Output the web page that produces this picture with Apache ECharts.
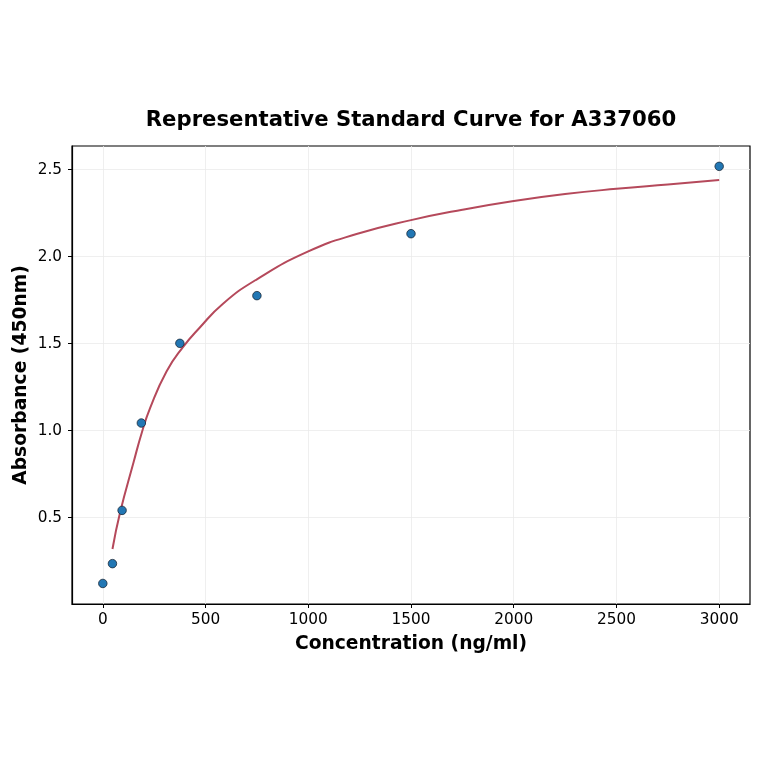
<!DOCTYPE html>
<html lang="en">
<head>
    <meta charset="UTF-8">
    <title>Representative Standard Curve for A337060</title>
    <script src="https://cdn.jsdelivr.net/npm/echarts@6.0.0/dist/echarts.min.js"></script>
    <style>
        html, body { margin: 0; padding: 0; background: #fff; }
        #chart { width: 764px; height: 764px; }
    </style>
</head>
<body>
    <div id="chart"></div>

    <script>
        // measured standards
        const concentration = [0, 46.875, 93.75, 187.5, 375, 750, 1500, 3000];
        const absorbance = [0.122, 0.236, 0.542, 1.044, 1.502, 1.776, 2.132, 2.519];

        // fitted curve
        const curveX = [47, 84, 150, 190, 230, 310, 390, 470, 585, 750, 1000, 1235, 1500, 1750, 2000, 2250, 2500, 2750, 3000];
        const curveY = [0.32, 0.53, 0.82, 0.99, 1.13, 1.34, 1.48, 1.59, 1.73, 1.87, 2.03, 2.13, 2.21, 2.27, 2.32, 2.36, 2.39, 2.415, 2.44];

        // tick labels
        const xTicks = [0, 500, 1000, 1500, 2000, 2500, 3000];
        const yTicks = [0.5, 1.0, 1.5, 2.0, 2.5];

        const chart = echarts.init(document.getElementById('chart'));
        const font = 'DejaVu Sans';

        const option = {
            animation: false,
            title: {
                text: 'Representative Standard Curve for A337060',
                left: 406,
                textAlign: 'center',
                top: 105,
                textStyle: { fontFamily: font, fontSize: 21.2, fontWeight: 'bold', color: '#000' }
            },
            grid: { left: 72, right: 14, top: 146, bottom: 160, containLabel: false, show: true, borderColor: '#000', borderWidth: 1.2 },
            xAxis: {
                type: 'value',
                min: -150,
                max: 3150,
                name: 'Concentration (ng/ml)',
                nameLocation: 'middle',
                nameGap: 31,
                nameMoveOverlap: false,
                nameTextStyle: { fontFamily: font, fontSize: 18.7, fontWeight: 'bold', color: '#000' },
                axisLine: { show: true, onZero: false, lineStyle: { color: '#000', width: 1.2 } },
                axisTick: { show: true, length: 4, customValues: xTicks, lineStyle: { color: '#000' } },
                axisLabel: {
                    customValues: xTicks,
                    fontFamily: font, fontSize: 15.3, color: '#000', margin: 9,
                    formatter: v => String(v)
                },
                splitLine: { show: true, lineStyle: { color: '#ebebeb', width: 0.8 } }
            },
            yAxis: {
                type: 'value',
                min: 0.004,
                max: 2.636,
                name: 'Absorbance (450nm)',
                nameLocation: 'middle',
                nameGap: 41,
                nameMoveOverlap: false,
                nameTextStyle: { fontFamily: font, fontSize: 18.7, fontWeight: 'bold', color: '#000' },
                axisLine: { show: true, onZero: false, lineStyle: { color: '#000', width: 1.2 } },
                axisTick: { show: true, length: 4, customValues: yTicks, lineStyle: { color: '#000' } },
                axisLabel: {
                    customValues: yTicks,
                    fontFamily: font, fontSize: 15.3, color: '#000', margin: 10,
                    formatter: v => v.toFixed(1)
                },
                splitLine: { show: true, lineStyle: { color: '#ebebeb', width: 0.8 } }
            },
            series: [
                {
                    name: 'Fit',
                    type: 'line',
                    data: curveX.map((x, i) => [x, curveY[i]]),
                    smooth: 0.5,
                    showSymbol: false,
                    lineStyle: { color: '#b5495b', width: 2 },
                    z: 2
                },
                {
                    name: 'Standards',
                    type: 'scatter',
                    data: concentration.map((x, i) => [x, absorbance[i]]),
                    symbolSize: 8.5,
                    itemStyle: { color: '#2277b4', borderColor: '#1a2a3a', borderWidth: 0.8, opacity: 1 },
                    z: 3
                }
            ]
        };

        chart.setOption(option);
    </script>
</body>
</html>
